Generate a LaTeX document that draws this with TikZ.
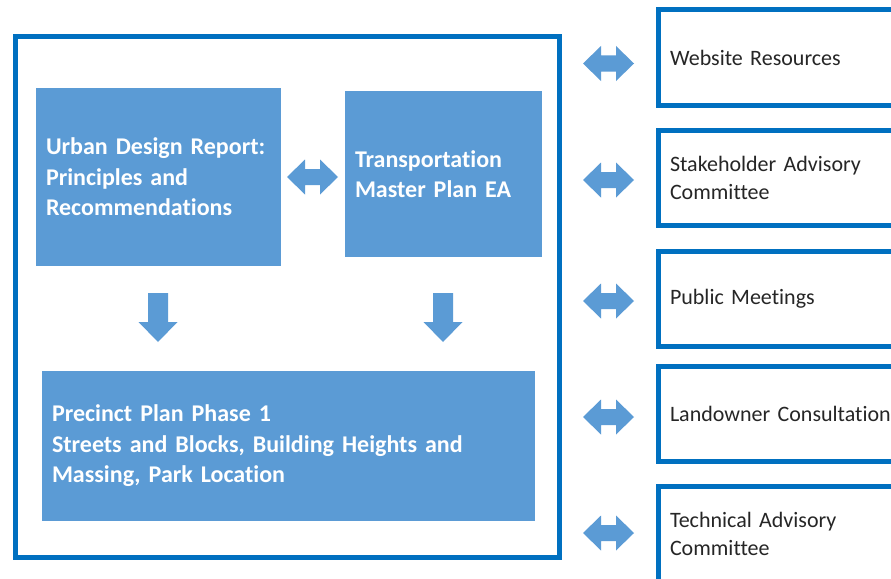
\documentclass[tikz,border=0pt]{standalone}
\usepackage{fontspec}
\setmainfont{Carlito}[Ligatures=NoCommon]
\definecolor{boxfill}{HTML}{5B9BD5}
\definecolor{frameblue}{HTML}{0070C0}
\definecolor{txtdark}{HTML}{262626}
\begin{document}
\begin{tikzpicture}[x=1pt,y=-1pt,
  fillbox/.style={rectangle, fill=boxfill, anchor=north west, inner xsep=10pt, inner ysep=0pt, outer sep=0pt,
    align=left, text=white, font=\fontsize{24}{30.5}\selectfont\bfseries},
  sidebox/.style={rectangle, draw=frameblue, line width=5pt, anchor=north west, inner xsep=12pt, inner ysep=0pt,
    outer sep=0pt, align=left, text=txtdark, minimum height=95.5pt, text width=240pt, font=\fontsize{22}{28}\selectfont},
  frame/.style={rectangle, draw=frameblue, line width=5pt, anchor=north west, inner sep=0pt, outer sep=0pt},
  dbl/.pic={\fill[boxfill] (-25.5,0) -- (-7.5,-17.5) -- (-7.5,-8) -- (7.5,-8) -- (7.5,-17.5) -- (25.5,0)
      -- (7.5,17.5) -- (7.5,8) -- (-7.5,8) -- (-7.5,17.5) -- cycle;},
  down/.pic={\fill[boxfill] (-10,-24.5) -- (10,-24.5) -- (10,4.5) -- (19.5,4.5) -- (0,24.5)
      -- (-19.5,4.5) -- (-10,4.5) -- (-10,-24.5) -- cycle;}
]
\clip (0,0) rectangle (891,578);
\fill[white] (0,0) rectangle (891,578);

% outer frame
\node[frame, minimum width=543.5pt, minimum height=520pt] (outer) at (15.5,37) {};

% inner boxes
\node[fillbox, minimum height=178pt, text width=225pt] (urban) at (36,88)
  {Urban Design Report:\\Principles and\\Recommendations};
\node[fillbox, minimum height=166pt, text width=177pt] (trans) at (345,91)
  {Transportation\\Master Plan EA};
\node[fillbox, minimum height=150pt, text width=473pt] (precinct) at (42,371)
  {Precinct Plan Phase 1\\Streets and Blocks, Building Heights and\\Massing, Park Location};

% inner arrows
\pic (a0) at (312.5,177) {dbl};
\pic (d1) at (158,317.5) {down};
\pic (d2) at (443,317.5) {down};

% side boxes
\node[sidebox] (web) at (658,10) {Website Resources};
\node[sidebox] (stake) at (658,130) {Stakeholder Advisory\\Committee};
\node[sidebox] (public) at (658,251) {Public Meetings};
\node[sidebox] (land) at (658,366) {Landowner Consultation};
\node[sidebox] (tech) at (658,486.5) {Technical Advisory\\Committee};

% side arrows
\pic (s1) at (608.5,63.5) {dbl};
\pic (s2) at (608.5,180) {dbl};
\pic (s3) at (608.5,301) {dbl};
\pic (s4) at (608.5,417) {dbl};
\pic (s5) at (608.5,533) {dbl};
\end{tikzpicture}
\end{document}
